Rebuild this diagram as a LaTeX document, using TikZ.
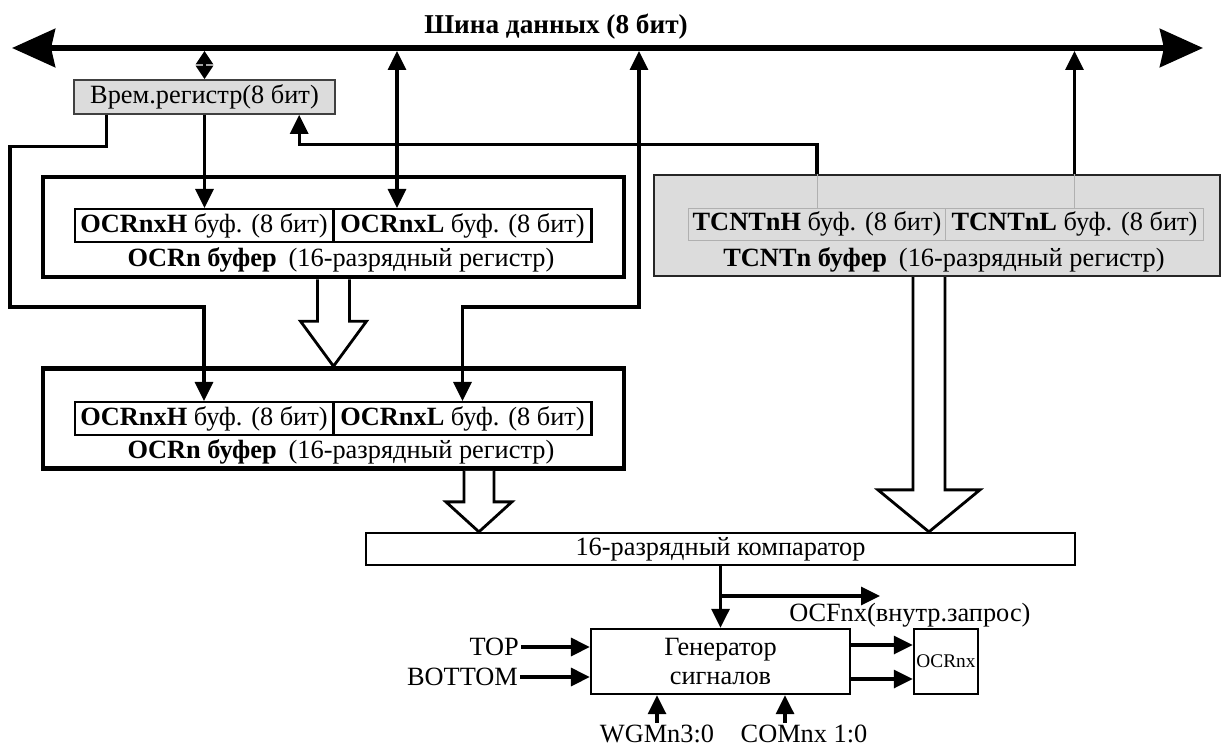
\documentclass[tikz,border=0pt]{standalone}
\usepackage{fontspec}
\setmainfont{Liberation Serif}
\usetikzlibrary{arrows.meta, calc, positioning}
\definecolor{RegGray}{HTML}{DCDCDC}
\definecolor{EdgeGray}{HTML}{404040}
\definecolor{ThinGray}{HTML}{B0B0B0}
\newcommand{\txt}{\fontsize{15}{16.5}\selectfont}
% hollow block arrow: top point, tip point, shaft half, head half, head length
\newcommand{\bigarrow}[5]{%
  \draw[hollow] ($(#1)+(-#3,0)$) -- ($(#2)+(-#3,-#5)$) -- ($(#2)+(-#4,-#5)$)
    -- (#2) -- ($(#2)+(#4,-#5)$) -- ($(#2)+(#3,-#5)$) -- ($(#1)+(#3,0)$);}
\tikzset{
    % Box styles
    outerbox/.style={
        rectangle,
        draw,
        line width=2.6pt,
        minimum width=11.62cm,
        minimum height=2cm
    },
    halfbox/.style={
        rectangle,
        draw,
        line width=1.2pt,
        minimum width=5.16cm,
        minimum height=0.66cm,
        inner sep=0pt,
        font=\txt
    },
    tempbox/.style={
        rectangle,
        draw=EdgeGray,
        fill=RegGray,
        line width=1pt,
        minimum width=5.22cm,
        minimum height=0.68cm,
        inner sep=0pt,
        font=\txt
    },
    graybox/.style={
        rectangle,
        draw=black!85,
        fill=RegGray,
        line width=1.2pt,
        minimum width=11.32cm,
        minimum height=2.02cm
    },
    grayhalf/.style={
        rectangle,
        draw=ThinGray,
        line width=0.5pt,
        minimum width=5.15cm,
        minimum height=0.64cm,
        inner sep=0pt,
        font=\txt
    },
    plainbox/.style={
        rectangle,
        draw,
        line width=1.3pt,
        align=center,
        inner sep=0pt,
        font=\txt
    },
    label/.style={
        inner sep=1pt,
        font=\txt
    },
    % Arrow styles
    bus/.style={
        line width=3.4pt,
        {Stealth[length=0.86cm,width=0.76cm,inset=0.08cm]}-{Stealth[length=0.86cm,width=0.76cm,inset=0.08cm]}
    },
    wire/.style={
        line width=1.75pt
    },
    arrow/.style={
        wire,
        -{Triangle[length=0.38cm,width=0.36cm]}
    },
    twoway/.style={
        wire,
        {Triangle[length=0.38cm,width=0.36cm]}-{Triangle[length=0.38cm,width=0.36cm]}
    },
    shortway/.style={
        wire,
        {Triangle[length=0.27cm,width=0.34cm]}-{Triangle[length=0.27cm,width=0.34cm]}
    },
    thinline/.style={
        draw=ThinGray,
        line width=0.5pt
    },
    hollow/.style={
        line width=1.6pt,
        fill=white
    }
}

\begin{document}
\begin{tikzpicture}[x=0.02cm, y=-0.02cm]
    \useasboundingbox (0,0) rectangle (1227,749);

    % data bus
    \node[font=\fontsize{15.5}{17}\selectfont\bfseries] (busname) at (556,27) {Шина данных (8 бит)};
    \coordinate (busL) at (12,48);
    \coordinate (busR) at (1203,48);
    \coordinate (busS) at (0,51);
    \draw[bus] (busL) -- (busR);

    % registers
    \node[tempbox] (temp) at (204.5,97) {Врем.регистр(8 бит)};

    \node[outerbox] (bufA) at (333.5,227) {};
    \node[halfbox] (bufAH) at (204,225.5) {\textbf{OCRnxH} буф. (8 бит)};
    \node[halfbox] (bufAL) at (462.5,225.5) {\textbf{OCRnxL} буф. (8 бит)};
    \node[label] (bufAtxt) at (341,260) {\textbf{OCRn буфер}\hspace{0.45em}(16-разрядный регистр)};

    \node[outerbox] (bufB) at (333.5,418.5) {};
    \node[halfbox] (bufBH) at (204,418.5) {\textbf{OCRnxH} буф. (8 бит)};
    \node[halfbox] (bufBL) at (462.5,418.5) {\textbf{OCRnxL} буф. (8 бит)};
    \node[label] (bufBtxt) at (341,452) {\textbf{OCRn буфер}\hspace{0.45em}(16-разрядный регистр)};

    \node[graybox] (tcnt) at (937,225.5) {};
    \node[grayhalf] (tcntH) at (817,224) {\textbf{TCNTnH} буф. (8 бит)};
    \node[grayhalf] (tcntL) at (1074.5,224) {\textbf{TCNTnL} буф. (8 бит)};
    \node[label] (tcnttxt) at (944,260) {\textbf{TCNTn буфер}\hspace{0.45em}(16-разрядный регистр)};

    \node[plainbox, minimum width=14.18cm, minimum height=0.64cm] (cmp) at (720.5,549) {16-разрядный компаратор};
    \node[plainbox, minimum width=5.18cm, minimum height=1.3cm] (gen) at (720.5,661.5) {Генератор\\сигналов};
    \node[plainbox, minimum width=1.28cm, minimum height=1.3cm, font=\fontsize{11}{12}\selectfont] (ocrnx) at (946,661.5) {OCRnx};

    \node[label] (ocf) at (910,615) {OCFnx(внутр.запрос)};
    \node[label, anchor=east] (top) at (521,647) {TOP};
    \node[label, anchor=east] (bottom) at (520,677) {BOTTOM};
    \node[label] (wgm) at (657,734) {WGMn3:0};
    \node[label] (com) at (804,734) {COMnx 1:0};

    % bus connections
    \draw[shortway] (temp.north) -- (temp.north |- busS);
    \draw[arrow] (temp.south) -- (temp.south |- bufAH.north);
    \coordinate (tapL) at (397,51);
    \draw[twoway] (tapL) -- (tapL |- bufAL.north);
    \coordinate (loopY) at (10,307);
    \draw[arrow] ($(temp.south west)+(33,0)$) -- ++(0,32) -| (loopY) -| (bufBH.north);
    \coordinate (tapR) at (639,51);
    \draw[twoway] (tapR) -- (tapR |- loopY) -| (bufBL.north);

    \draw[arrow] (tcntH.north |- tcnt.north) -- ++(0,-29) -| ($(temp.south west)+(226,0)$);
    \draw[thinline] (tcntH.north |- tcnt.north) -- (tcntH.north);
    \draw[arrow] (tcntL.north |- tcnt.north) -- (tcntL.north |- busS);
    \draw[thinline] (tcntL.north |- tcnt.north) -- (tcntL.north);

    % 16-bit transfers
    \bigarrow{bufA.south}{bufB.north}{16}{33}{45}
    \coordinate (tipB) at ($(cmp.north west)+(114,0)$);
    \coordinate (topB) at (tipB |- bufB.south);
    \bigarrow{topB}{tipB}{15}{33}{30}
    \coordinate (tipT) at ($(cmp.north west)+(564,0)$);
    \coordinate (topT) at (tipT |- tcnt.south);
    \bigarrow{topT}{tipT}{16}{51}{42}

    % compare output
    \draw[arrow] (cmp.south) -- (gen.north);
    \coordinate (ocfEnd) at (880,596);
    \draw[arrow] (cmp.south |- ocfEnd) -- (ocfEnd);
    \draw[arrow] ($(gen.east)+(0,-16.5)$) -- ($(ocrnx.west)+(0,-16.5)$);
    \draw[arrow] ($(gen.east)+(0,17.5)$) -- ($(ocrnx.west)+(0,17.5)$);
    \draw[arrow] (top.east) -- (top.east -| gen.west);
    \draw[arrow] (bottom.east) -- (bottom.east -| gen.west);
    \draw[arrow] (wgm.north) -- (wgm.north |- gen.south);
    \draw[arrow] ($(com.north)+(-19,0)$) -- ($(com.north |- gen.south)+(-19,0)$);
\end{tikzpicture}
\end{document}
